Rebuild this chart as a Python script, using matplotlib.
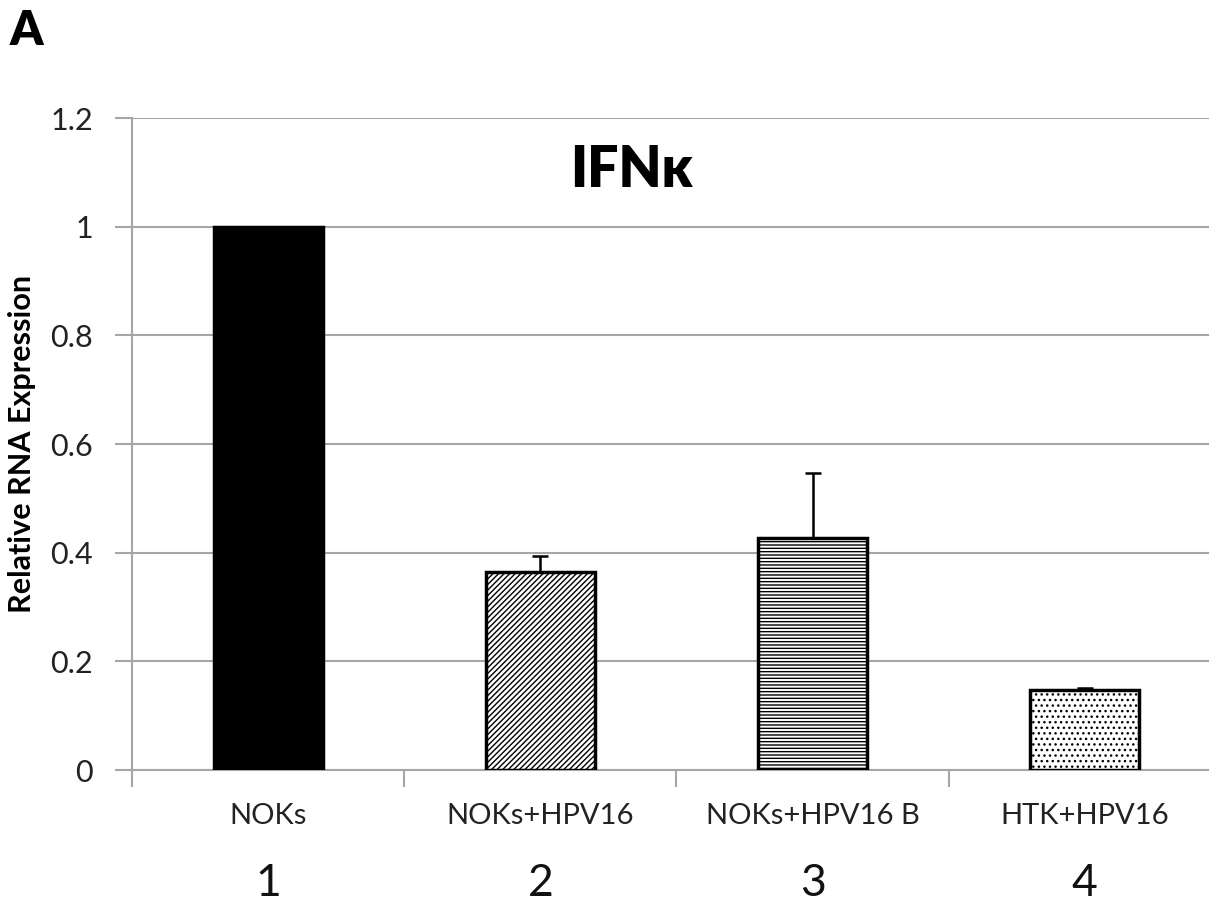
import matplotlib
matplotlib.use("Agg")
import matplotlib.pyplot as plt
from matplotlib.transforms import blended_transform_factory

plt.rcParams['hatch.linewidth'] = 1.0

categories = ["NOKs", "NOKs+HPV16", "NOKs+HPV16 B", "HTK+HPV16"]
numbers = ["1", "2", "3", "4"]
values = [1.0, 0.364, 0.427, 0.147]
errors_up = [0.0, 0.030, 0.120, 0.004]
hatches = [None, "//////", "-----", "..."]
faces = ["black", "white", "white", "white"]
yticks = [0, 0.2, 0.4, 0.6, 0.8, 1, 1.2]
ytick_labels = ["0", "0.2", "0.4", "0.6", "0.8", "1", "1.2"]

FONT = ["Lato", "DejaVu Sans"]
plt.rcParams['font.family'] = FONT

fig = plt.figure(figsize=(12.09, 9.07), dpi=100)
ax = fig.add_axes([132/1209, 137/907, 1089/1209, 652/907])

grid_c = "#a6a6a6"
x = list(range(len(categories)))
for i in x:
    ax.bar(i, values[i], width=0.4, color=faces[i], edgecolor="black",
           linewidth=2.5, hatch=hatches[i], zorder=3)
    if errors_up[i] > 0:
        ax.errorbar(i, values[i], yerr=[[0], [errors_up[i]]], fmt="none",
                    ecolor="black", elinewidth=1.8, capsize=6, capthick=1.8,
                    zorder=4)

ax.set_xlim(-0.5, 3.5)
ax.set_ylim(0, 1.2)
ax.set_yticks(yticks)
ax.set_yticklabels(ytick_labels, fontsize=22, color="#222222")
ax.yaxis.grid(True, color=grid_c, linewidth=1.5, zorder=0)
ax.set_axisbelow(True)

ax.set_xticks([-0.5, 0.5, 1.5, 2.5, 3.5])
ax.set_xticklabels([])
ax.set_xticks(x, minor=True)
ax.set_xticklabels(categories, minor=True, fontsize=21, color="#222222")
ax.tick_params(axis="x", which="minor", length=0, pad=24)
ax.tick_params(axis="x", which="major", length=12, width=1.5, color=grid_c, direction="out")
ax.tick_params(axis="y", length=12, width=1.5, color=grid_c, direction="out", pad=16)

for s in ["top", "right"]:
    ax.spines[s].set_visible(False)
for s in ["left", "bottom"]:
    ax.spines[s].set_color(grid_c)
    ax.spines[s].set_linewidth(1.5)

trans = blended_transform_factory(ax.transData, fig.transFigure)
for i in x:
    ax.text(i, 1 - 896/907, numbers[i], transform=trans, ha="center", va="baseline",
            fontsize=32, color="#111111")

fig.text(22/1209, 1 - 444/907, "Relative RNA Expression", rotation=90, ha="center",
         va="center", fontsize=22, fontweight="bold")

ax.text(1.336, 1.104, "IFNκ", ha="center", va="center", fontsize=40,
        fontweight="heavy", family=FONT)
fig.text(10/1209, 1 - 31/907, "A", ha="left", va="center", fontsize=34, fontweight="heavy")

fig.savefig("out.png", dpi=100)
